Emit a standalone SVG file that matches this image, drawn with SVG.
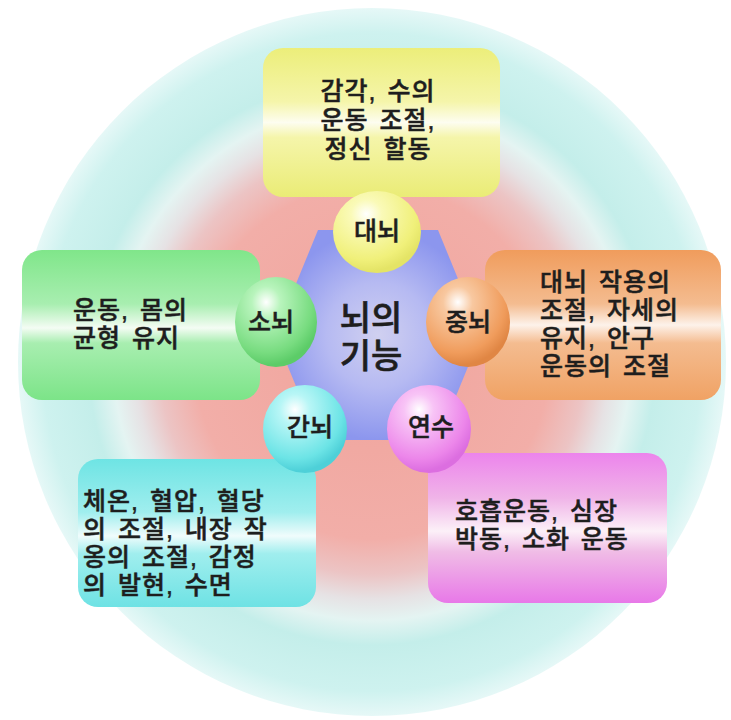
<svg xmlns="http://www.w3.org/2000/svg" width="731" height="720" viewBox="0 0 731 720">
<defs>
<style>
.t{font-family:"Liberation Sans","Noto Sans CJK KR",sans-serif;font-size:25px;font-weight:500;fill:#1e1e1e;stroke:#1e1e1e;stroke-width:0.5px;letter-spacing:1px;word-spacing:3px}
.b{font-family:"Noto Sans CJK KR","Noto Sans",sans-serif;font-size:25px;font-weight:500;fill:#1e1e1e;stroke:#1e1e1e;stroke-width:0.5px;text-anchor:middle}
.c{font-family:"Liberation Sans","Noto Sans CJK KR",sans-serif;font-size:34px;font-weight:500;fill:#1e1e1e;stroke:#1e1e1e;stroke-width:0.6px;text-anchor:middle}
</style>
<radialGradient id="bg" cx="372" cy="362" r="354" gradientUnits="userSpaceOnUse">
<stop offset="0" stop-color="#f0a49c"/>
<stop offset="0.5" stop-color="#f2aea8"/>
<stop offset="0.6" stop-color="#ecc4c4"/>
<stop offset="0.67" stop-color="#e6e2e4"/>
<stop offset="0.73" stop-color="#e4f4f2"/>
<stop offset="0.8" stop-color="#c4eeea"/>
<stop offset="0.93" stop-color="#cef2ef"/>
<stop offset="1" stop-color="#e6f8f7"/>
</radialGradient>
<radialGradient id="hx" cx="0.5" cy="0.5" r="0.5">
<stop offset="0" stop-color="#d0d0f0"/>
<stop offset="0.5" stop-color="#b6baf2"/>
<stop offset="1" stop-color="#8c96ee"/>
</radialGradient>
<linearGradient id="gy" x1="0" y1="0" x2="0" y2="1">
<stop offset="0" stop-color="#ecee7a"/><stop offset="0.36" stop-color="#f5f5aa"/><stop offset="0.5" stop-color="#fdfdf0"/><stop offset="0.6" stop-color="#f5f5aa"/><stop offset="1" stop-color="#eaec76"/>
</linearGradient>
<linearGradient id="gg" x1="0" y1="0" x2="0" y2="1">
<stop offset="0" stop-color="#80e68a"/><stop offset="0.36" stop-color="#a8eeb0"/><stop offset="0.52" stop-color="#f4fcf4"/><stop offset="0.62" stop-color="#a8eeb0"/><stop offset="1" stop-color="#7ce488"/>
</linearGradient>
<linearGradient id="go" x1="0" y1="0" x2="0" y2="1">
<stop offset="0" stop-color="#f09c5c"/><stop offset="0.36" stop-color="#f4bc90"/><stop offset="0.5" stop-color="#fdf2ea"/><stop offset="0.62" stop-color="#f4bc90"/><stop offset="1" stop-color="#f0a264"/>
</linearGradient>
<linearGradient id="gc" x1="0" y1="0" x2="0" y2="1">
<stop offset="0" stop-color="#6ee4e4"/><stop offset="0.36" stop-color="#a0eeee"/><stop offset="0.52" stop-color="#f0fcfc"/><stop offset="0.64" stop-color="#a0eeee"/><stop offset="1" stop-color="#6ee2e4"/>
</linearGradient>
<linearGradient id="gp" x1="0" y1="0" x2="0" y2="1">
<stop offset="0" stop-color="#ec84ec"/><stop offset="0.3" stop-color="#f0b4e8"/><stop offset="0.52" stop-color="#fcf0f8"/><stop offset="0.66" stop-color="#f0bce6"/><stop offset="1" stop-color="#e878e8"/>
</linearGradient>
<radialGradient id="by" cx="0.38" cy="0.28" r="0.7"><stop offset="0" stop-color="#ffffff"/><stop offset="0.25" stop-color="#fafab8"/><stop offset="0.8" stop-color="#f0f07a"/><stop offset="1" stop-color="#e4e466"/></radialGradient>
<radialGradient id="bgn" cx="0.38" cy="0.28" r="0.7"><stop offset="0" stop-color="#ffffff"/><stop offset="0.25" stop-color="#b8f4bc"/><stop offset="0.8" stop-color="#78dc80"/><stop offset="1" stop-color="#5ccc68"/></radialGradient>
<radialGradient id="bo" cx="0.38" cy="0.28" r="0.7"><stop offset="0" stop-color="#ffffff"/><stop offset="0.25" stop-color="#f8c8a0"/><stop offset="0.8" stop-color="#f09c5c"/><stop offset="1" stop-color="#e08644"/></radialGradient>
<radialGradient id="bc" cx="0.38" cy="0.28" r="0.7"><stop offset="0" stop-color="#ffffff"/><stop offset="0.25" stop-color="#b8f6f6"/><stop offset="0.8" stop-color="#6ce4e6"/><stop offset="1" stop-color="#4ed0d8"/></radialGradient>
<radialGradient id="bp" cx="0.38" cy="0.28" r="0.7"><stop offset="0" stop-color="#ffffff"/><stop offset="0.25" stop-color="#f8c4f6"/><stop offset="0.8" stop-color="#ec86ea"/><stop offset="1" stop-color="#dc6ee0"/></radialGradient>
</defs>
<rect width="731" height="720" fill="#ffffff"/>
<circle cx="372" cy="362" r="354" fill="url(#bg)"/>
<g id="connectors"/>
<g id="box-daenoe"><rect x="263" y="48" width="237" height="149" rx="20" fill="url(#gy)"/>
<text class="t" text-anchor="middle"><tspan x="378" y="100">감각, 수의</tspan><tspan x="378" y="129">운동 조절,</tspan><tspan x="378" y="158">정신 할동</tspan></text></g>
<g id="box-sonoe"><rect x="22" y="250" width="238" height="150" rx="20" fill="url(#gg)"/>
<text class="t"><tspan x="73" y="319">운동, 몸의</tspan><tspan x="73" y="347">균형 유지</tspan></text></g>
<g id="box-jungnoe"><rect x="485" y="250" width="236" height="150" rx="20" fill="url(#go)"/>
<text class="t"><tspan x="540" y="291">대뇌 작용의</tspan><tspan x="540" y="319">조절, 자세의</tspan><tspan x="540" y="347">유지, 안구</tspan><tspan x="540" y="375">운동의 조절</tspan></text></g>
<g id="box-gannoe"><rect x="78" y="459" width="238" height="148" rx="20" fill="url(#gc)"/>
<text class="t"><tspan x="83" y="510">체온, 혈압, 혈당</tspan><tspan x="83" y="538">의 조절, 내장 작</tspan><tspan x="83" y="566">옹의 조절, 감정</tspan><tspan x="83" y="594">의 발현, 수면</tspan></text></g>
<g id="box-yeonsu"><rect x="428" y="453" width="239" height="150" rx="20" fill="url(#gp)"/>
<text class="t"><tspan x="455" y="520">호흡운동, 심장</tspan><tspan x="455" y="548">박동, 소화 운동</tspan></text></g>
<g id="center"><polygon points="318,230 438,230 481,335 438,440 318,440 275,335" fill="url(#hx)"/>
<text class="c"><tspan x="371" y="330">뇌의</tspan><tspan x="371" y="368">기능</tspan></text></g>
<g id="node-daenoe"><ellipse cx="377" cy="232" rx="44" ry="41" fill="url(#by)"/><text class="b" x="377" y="240">대뇌</text></g>
<g id="node-sonoe"><ellipse cx="276" cy="322" rx="41" ry="45" fill="url(#bgn)"/><text class="b" x="271" y="331">소뇌</text></g>
<g id="node-jungnoe"><ellipse cx="468" cy="322" rx="42" ry="45" fill="url(#bo)"/><text class="b" x="468" y="331">중뇌</text></g>
<g id="node-gannoe"><ellipse cx="305" cy="429" rx="42" ry="44" fill="url(#bc)"/><text class="b" x="310" y="436">간뇌</text></g>
<g id="node-yeonsu"><ellipse cx="429" cy="429" rx="42" ry="44" fill="url(#bp)"/><text class="b" x="431" y="436">연수</text></g>
</svg>
